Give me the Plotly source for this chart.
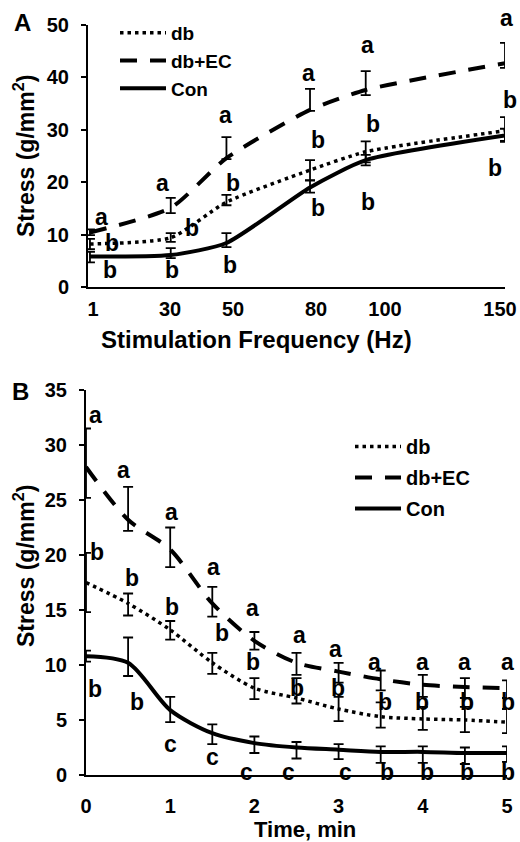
import plotly.graph_objects as go

# ---------------- data ----------------
freq = [1, 30, 50, 80, 100, 150]
freq_tick_text = ["1", "30", "50", "80", "100", "150"]

a_db = [8.2, 9.4, 16.2, 22.3, 25.8, 29.8]
a_db_up = [1.0, 0.9, 1.4, 1.9, 2.0, 2.6]
a_db_dn = [1.0, 0.8, 0.6, 1.9, 2.0, 2.1]

a_dbec = [10.4, 15.1, 24.6, 33.8, 37.6, 42.7]
a_dbec_up = [0.6, 1.9, 4.0, 4.0, 3.6, 3.9]
a_dbec_dn = [0.5, 1.0, 0.2, 0.2, 1.0, 0.9]

a_con = [5.8, 6.1, 8.4, 19.0, 24.2, 28.9]
a_con_up = [0.9, 1.3, 1.9, 1.3, 1.0, 1.3]
a_con_dn = [1.1, 0.6, 0.8, 1.0, 1.0, 1.0]

time_min = [0, 0.5, 1, 1.5, 2, 2.5, 3, 3.5, 4, 4.5, 5]

b_db = [17.5, 15.6, 13.2, 10.2, 7.9, 7.0, 6.0, 5.3, 5.1, 5.0, 4.8]
b_db_up = [2.7, 0.9, 0.8, 0.9, 0.9, 1.8, 1.1, 1.3, 1.1, 1.2, 1.2]
b_db_dn = [2.7, 1.1, 0.9, 1.0, 1.0, 0.5, 1.1, 1.0, 1.0, 1.1, 1.0]

b_dbec = [28.0, 23.2, 20.5, 15.6, 12.2, 10.2, 9.4, 8.7, 8.2, 8.0, 7.9]
b_dbec_up = [3.5, 3.0, 2.0, 1.5, 0.8, 0.9, 0.8, 0.8, 0.9, 0.8, 0.7]
b_dbec_dn = [2.8, 1.0, 1.6, 1.2, 0.8, 1.1, 1.0, 1.0, 1.1, 1.0, 0.9]

b_con = [10.8, 10.2, 5.9, 3.8, 2.9, 2.5, 2.3, 2.1, 2.1, 2.0, 2.0]
b_con_up = [0.5, 2.3, 1.2, 0.8, 0.6, 0.5, 0.5, 0.5, 0.5, 0.5, 0.6]
b_con_dn = [0.5, 1.2, 1.1, 1.0, 0.9, 1.0, 0.85, 1.0, 1.0, 1.0, 0.8]

# significance letters (text, x, y) in data units
a_letters = [
    ("a", 5.3, 13.4), ("b", 8.9, 8.4), ("b", 8.2, 3.2),
    ("a", 27.2, 19.8), ("b", 37.6, 11.3), ("b", 30.4, 3.2),
    ("a", 49.5, 32.8), ("b", 52.3, 19.8), ("b", 51.3, 4.2),
    ("a", 79.3, 40.8), ("b", 82.9, 28.0), ("b", 82.9, 15.1),
    ("a", 100.8, 46.2), ("b", 102.6, 31.1), ("b", 100.8, 16.2),
    ("a", 150.7, 51.3), ("b", 151.8, 35.7), ("b", 146.4, 22.7),
]
b_letters = [
    ("a", 0.11, 32.7), ("b", 0.13, 20.3), ("b", 0.11, 7.8),
    ("a", 0.44, 27.7), ("b", 0.55, 17.9), ("b", 0.61, 6.6),
    ("a", 1.02, 23.9), ("b", 1.02, 15.3), ("c", 1.00, 2.8),
    ("a", 1.51, 18.9), ("b", 1.62, 12.9), ("c", 1.50, 1.6),
    ("a", 1.98, 15.2), ("b", 1.98, 10.3), ("c", 1.91, 0.3),
    ("a", 2.54, 12.7), ("b", 2.51, 7.9), ("c", 2.40, 0.3),
    ("a", 2.96, 11.5), ("b", 2.99, 7.9), ("c", 3.08, 0.3),
    ("a", 3.43, 10.3), ("b", 3.55, 6.6), ("b", 3.57, 0.3),
    ("a", 4.00, 10.3), ("b", 3.99, 6.6), ("b", 4.05, 0.3),
    ("a", 4.50, 10.3), ("b", 4.52, 6.6), ("b", 4.52, 0.3),
    ("a", 5.01, 10.3), ("b", 5.01, 6.6), ("b", 5.01, 0.3),
]

series_names = ["db", "db+EC", "Con"]

# ---------------- layout geometry / styles ----------------
FONT = "Liberation Sans, Arial, sans-serif"
W, H = 520, 842
A_X_PX, A_Y_PX = (88, 505), (287, 25)
B_X_PX, B_Y_PX = (86, 507), (775, 390)
A_XR, A_YR = (0.3, 150), (0, 50)
B_XR, B_YR = (0, 5), (0, 35)
# pixel centres where the frequency tick labels sit in the original figure
A_TICK_LABEL_PX = [93, 170, 233, 316, 385, 500]

dash_styles = {"db": "3.5px,4px", "db+EC": "17px,13px", "Con": "solid"}
line_widths = {"db": 3.5, "db+EC": 4, "Con": 4}


def err(up, dn):
    return dict(type="data", symmetric=False, array=up, arrayminus=dn,
                color="black", thickness=1.8, width=5)


fig = go.Figure()

panelA = [(a_db, a_db_up, a_db_dn), (a_dbec, a_dbec_up, a_dbec_dn), (a_con, a_con_up, a_con_dn)]
panelB = [(b_db, b_db_up, b_db_dn), (b_dbec, b_dbec_up, b_dbec_dn), (b_con, b_con_up, b_con_dn)]

for name, (y, up, dn) in zip(series_names, panelA):
    fig.add_trace(go.Scatter(
        x=freq, y=y, name=name, mode="lines", xaxis="x", yaxis="y",
        line=dict(color="black", width=line_widths[name], dash=dash_styles[name],
                  shape="spline", smoothing=0.6),
        error_y=err(up, dn), cliponaxis=False, legend="legend",
        legendgroup="A" + name, hoverinfo="skip"))

for name, (y, up, dn) in zip(series_names, panelB):
    fig.add_trace(go.Scatter(
        x=time_min, y=y, name=name, mode="lines", xaxis="x2", yaxis="y2",
        line=dict(color="black", width=line_widths[name], dash=dash_styles[name],
                  shape="spline", smoothing=0.8),
        error_y=err(up, dn), cliponaxis=False, legend="legend2",
        legendgroup="B" + name, hoverinfo="skip"))


def letter(t, x, y, xref, yref, xr, yr, xpx, ypx):
    # keep anchor inside axis range; express overflow as a pixel shift
    sx = (xpx[1] - xpx[0]) / (xr[1] - xr[0])
    sy = (ypx[0] - ypx[1]) / (yr[1] - yr[0])
    cx = min(max(x, xr[0]), xr[1])
    cy = min(max(y, yr[0]), yr[1])
    return dict(text=t, x=cx, y=cy, xref=xref, yref=yref, showarrow=False,
                xshift=(x - cx) * sx, yshift=(y - cy) * sy,
                font=dict(family=FONT, size=23, color="black", weight="bold"))


ann = []
for t, x, y in a_letters:
    ann.append(letter(t, x, y, "x", "y", A_XR, A_YR, A_X_PX, A_Y_PX))
for t, x, y in b_letters:
    ann.append(letter(t, x, y, "x2", "y2", B_XR, B_YR, B_X_PX, B_Y_PX))


def paper_ann(text, px, py, size, angle=0):
    return dict(text=text, x=px / W, y=1 - py / H, xref="paper", yref="paper",
                showarrow=False, textangle=angle, xanchor="center", yanchor="middle",
                font=dict(family=FONT, size=size, color="black", weight="bold"))


ann += [
    paper_ann("A", 22, 23, 24),
    paper_ann("B", 20, 391, 24),
    paper_ann("Stress (g/mm<sup>2</sup>)", 24, 156, 23, -90),
    paper_ann("Stress (g/mm<sup>2</sup>)", 24, 566, 23, -90),
    paper_ann("Stimulation Frequency (Hz)", 256, 339, 24),
    paper_ann("Time, min", 305, 829, 22),
]

a_sx = (A_X_PX[1] - A_X_PX[0]) / (A_XR[1] - A_XR[0])
a_tickvals = [A_XR[0] + (p - A_X_PX[0]) / a_sx for p in A_TICK_LABEL_PX]

tickfont = dict(family=FONT, size=20, color="black", weight="bold")
axis_common = dict(showline=True, linewidth=2, linecolor="black", showgrid=False,
                   zeroline=False, tickfont=tickfont, automargin=False,
                   ticklabeloverflow="allow")

fig.update_layout(
    width=W, height=H, margin=dict(l=0, r=0, t=0, b=0, autoexpand=False),
    paper_bgcolor="white", plot_bgcolor="white",
    font=dict(family=FONT, color="black"),
    xaxis=dict(domain=[A_X_PX[0] / W, A_X_PX[1] / W], range=list(A_XR), anchor="y",
               tickmode="array", tickvals=a_tickvals, ticktext=freq_tick_text,
               ticks="", ticklabelstandoff=3, **axis_common),
    yaxis=dict(domain=[1 - A_Y_PX[0] / H, 1 - A_Y_PX[1] / H], range=list(A_YR), anchor="x",
               dtick=10, ticks="outside", ticklen=5, tickwidth=2, tickcolor="black",
               ticklabelstandoff=8, **axis_common),
    xaxis2=dict(domain=[B_X_PX[0] / W, B_X_PX[1] / W], range=list(B_XR), anchor="y2",
                dtick=1, ticks="", ticklabelstandoff=12, **axis_common),
    yaxis2=dict(domain=[1 - B_Y_PX[0] / H, 1 - B_Y_PX[1] / H], range=list(B_YR), anchor="x2",
                dtick=5, ticks="outside", ticklen=5, tickwidth=2, tickcolor="black",
                ticklabelstandoff=8, **axis_common),
    legend=dict(x=115 / W, y=1 - 14 / H, xanchor="left", yanchor="top",
                bgcolor="rgba(0,0,0,0)",
                font=dict(family=FONT, size=19, color="black", weight="bold"),
                itemwidth=46, tracegroupgap=0, traceorder="normal"),
    legend2=dict(x=350 / W, y=1 - 427 / H, xanchor="left", yanchor="top",
                 bgcolor="rgba(0,0,0,0)",
                 font=dict(family=FONT, size=20, color="black", weight="bold"),
                 itemwidth=46, tracegroupgap=2, traceorder="grouped"),
    annotations=ann,
    showlegend=True,
)

fig.write_html("out.html", config={"displayModeBar": False},
               post_script="document.body.style.margin='0px';document.body.style.overflow='hidden';")
